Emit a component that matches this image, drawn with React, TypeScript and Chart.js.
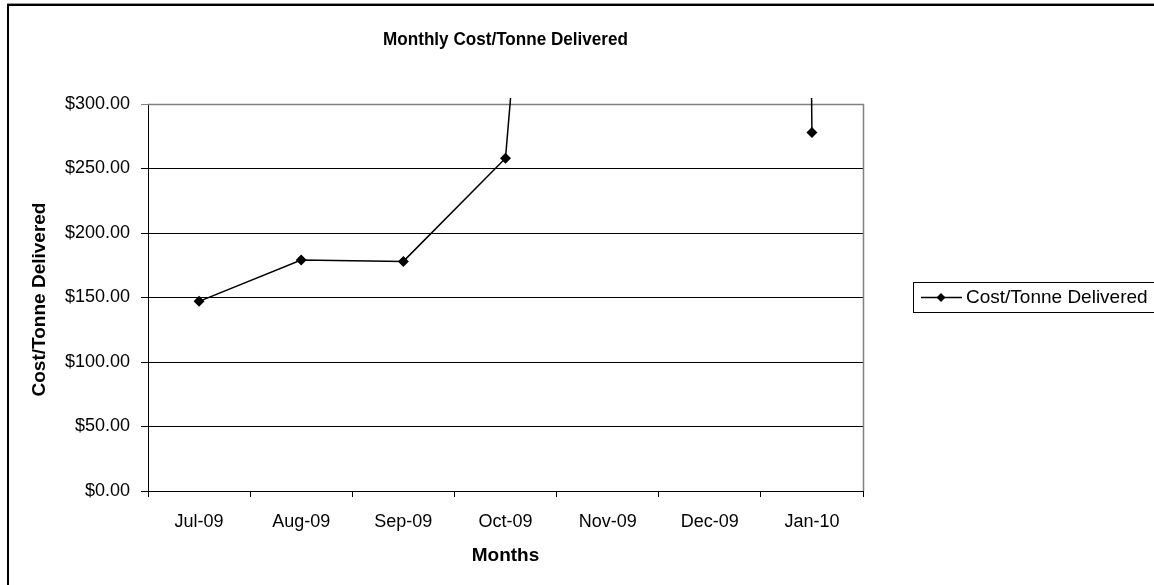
import React, { useEffect, useRef } from 'react';
import { Chart, registerables } from 'chart.js';

Chart.register(...registerables);

const months = ['Jul-09', 'Aug-09', 'Sep-09', 'Oct-09', 'Nov-09', 'Dec-09', 'Jan-10'];
const costPerTonne = [147, 179, 178, 258, 1200, 8500, 278];
const yTickValues = [0, 50, 100, 150, 200, 250, 300];
const chartTitle = 'Monthly Cost/Tonne Delivered';
const xAxisTitle = 'Months';
const yAxisTitle = 'Cost/Tonne Delivered';
const seriesLabel = 'Cost/Tonne Delivered';

const FONT = '"Liberation Sans", Arial, Helvetica, sans-serif';

export default function App() {
  const ref = useRef<HTMLCanvasElement>(null);

  useEffect(() => {
    document.body.style.margin = '0';
    const canvas = ref.current;
    if (!canvas) return;

    const decor = {
      id: 'decor',
      beforeDraw(chart: any) {
        const ctx = chart.ctx;
        ctx.save();
        ctx.fillStyle = '#ffffff';
        ctx.fillRect(0, 0, chart.width, chart.height);
        ctx.restore();
      },
      beforeDatasetsDraw(chart: any) {
        const ctx = chart.ctx;
        const a = chart.chartArea;
        ctx.save();
        ctx.strokeStyle = '#808080';
        ctx.lineWidth = 1.5;
        ctx.beginPath();
        ctx.moveTo(a.left, a.top + 0.5);
        ctx.lineTo(a.right + 0.5, a.top + 0.5);
        ctx.lineTo(a.right + 0.5, a.bottom);
        ctx.stroke();
        ctx.restore();
      },
      afterDraw(chart: any) {
        const ctx = chart.ctx;
        const a = chart.chartArea;
        const W = chart.width;
        const H = chart.height;
        ctx.save();
        // outer frame
        ctx.fillStyle = '#9a9a9a';
        ctx.fillRect(7, 3, W - 7, 1);
        ctx.fillStyle = '#000000';
        ctx.fillRect(7, 4, W - 7, 2);
        ctx.fillRect(7, 4, 2, H - 4);

        // titles
        ctx.fillStyle = '#000000';
        ctx.textAlign = 'center';
        ctx.textBaseline = 'middle';
        const cx = (a.left + a.right) / 2;
        ctx.save();
        ctx.translate(cx, 40);
        ctx.scale(0.9, 1);
        ctx.font = `bold 19px ${FONT}`;
        ctx.fillText(chartTitle, 0, 0);
        ctx.restore();
        ctx.font = `bold 19px ${FONT}`;
        ctx.fillText(xAxisTitle, cx, 556);
        ctx.save();
        ctx.translate(40, (a.top + a.bottom) / 2 + 2);
        ctx.rotate(-Math.PI / 2);
        ctx.fillText(yAxisTitle, 0, 0);
        ctx.restore();

        // legend
        const lx = 913.5;
        const ly = 282.5;
        ctx.strokeStyle = '#000000';
        ctx.lineWidth = 1;
        ctx.strokeRect(lx, ly, 300, 30);
        const my = ly + 15;
        ctx.lineWidth = 1.5;
        ctx.beginPath();
        ctx.moveTo(921, my);
        ctx.lineTo(962, my);
        ctx.stroke();
        ctx.beginPath();
        ctx.moveTo(941 - 4.5, my);
        ctx.lineTo(941, my - 4.5);
        ctx.lineTo(941 + 4.5, my);
        ctx.lineTo(941, my + 4.5);
        ctx.closePath();
        ctx.fill();
        ctx.font = `19px ${FONT}`;
        ctx.textAlign = 'left';
        ctx.fillText(chart.data.datasets[0].label, 966, my);
        ctx.restore();
      },
    };

    const chart = new Chart(canvas, {
      type: 'line',
      data: {
        labels: months,
        datasets: [
          {
            label: seriesLabel,
            data: costPerTonne,
            borderColor: '#000000',
            backgroundColor: '#000000',
            borderWidth: 1.5,
            pointStyle: 'rectRot',
            pointRadius: 5.5,
            pointBorderWidth: 0,
            pointBackgroundColor: '#000000',
            tension: 0,
            clip: { left: 10, top: 6, right: 10, bottom: 10 } as any,
          },
        ],
      },
      options: {
        responsive: false,
        animation: false,
        devicePixelRatio: 1,
        layout: { padding: { left: 8, top: 104, right: 291, bottom: 0 } },
        plugins: {
          legend: { display: false },
          title: { display: false },
          tooltip: { enabled: false },
        },
        scales: {
          x: {
            type: 'category',
            offset: true,
            afterFit: (s: any) => {
              s.height = 94;
            },
            grid: {
              offset: true,
              drawOnChartArea: false,
              drawTicks: true,
              tickLength: 6,
              color: '#000000',
            },
            border: { color: '#000000', width: 1 },
            ticks: {
              color: '#000000',
              font: { family: FONT, size: 18 },
              padding: 14,
              autoSkip: false,
              maxRotation: 0,
            },
          },
          y: {
            type: 'linear',
            min: 0,
            max: 300,
            afterFit: (s: any) => {
              s.width = 140;
            },
            afterBuildTicks: (s: any) => {
              s.ticks = yTickValues.map((v) => ({ value: v }));
            },
            grid: {
              color: (c: any) => (c.tick && c.tick.value === 300 ? '#808080' : '#000000'),
              tickLength: 7,
              drawTicks: true,
            },
            border: { color: '#000000', width: 1 },
            ticks: {
              color: '#000000',
              font: { family: FONT, size: 18 },
              padding: 11,
              callback: (v: any) => '$' + Number(v).toFixed(2),
            },
          },
        },
      },
      plugins: [decor],
    });

    return () => {
      chart.destroy();
    };
  }, []);

  return (
    <div style={{ position: 'absolute', left: 0, top: 0, width: 1154, height: 585 }}>
      <canvas ref={ref} width={1154} height={585} style={{ display: 'block', width: 1154, height: 585 }} />
    </div>
  );
}
